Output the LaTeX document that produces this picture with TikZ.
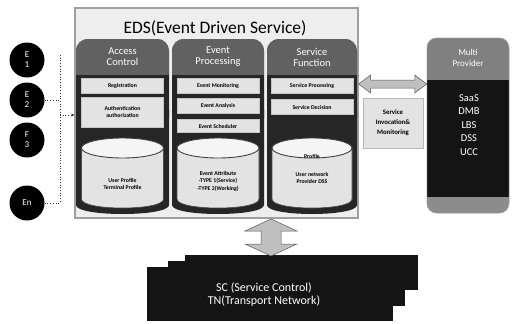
\documentclass[tikz,border=0pt]{standalone}
\usepackage{fontspec}
\setmainfont{Carlito}
\usetikzlibrary{arrows.meta,calc}
\begin{document}
\begin{tikzpicture}[x=1pt,y=-1pt,
  colbody/.style={fill=black!85},
  colhead/.style={fill=black!62},
  panel/.style={fill=gray!22, draw=gray!45, line width=0.4pt, minimum width=82, inner sep=0pt,
    font=\fontsize{5.8}{6.4}\selectfont\bfseries, align=center},
  htext/.style={font=\fontsize{10.5}{11}\selectfont, text=white, align=center, inner sep=0pt},
  ctext/.style={font=\fontsize{5.8}{7.5}\selectfont\bfseries, align=center, inner sep=0pt},
  cylbody/.style={fill=gray!22, draw=black!70, line width=0.6pt},
  cyltop/.style={fill=gray!8, draw=black!75, line width=0.9pt},
  ecirc/.style={circle, fill=black, minimum size=35, inner sep=0pt, text=white,
    font=\fontsize{9}{10}\selectfont, align=center},
  dot/.style={dotted, line width=0.7pt, black!80},
  blockarrow/.style={fill=gray!50, draw=black!65, line width=0.5pt},
  card/.style={fill=black!92},
  cardtext/.style={font=\fontsize{12}{13}\selectfont, text=white, inner sep=0pt}
]
\useasboundingbox (0,0) rectangle (512,324);

% EDS outer box
\node[draw=gray!75, line width=1.3pt, fill=gray!13, minimum width=283, minimum height=210, inner sep=0pt] (eds) at (216.5,113) {};
\node[font=\fontsize{17.5}{18}\selectfont, inner sep=0pt] (title) at (215,28) {EDS(Event Driven Service)};

% columns
\foreach \a/\b in {76/169,172/264,267/357} {
  \fill[colbody, rounded corners=12] (\a,39) rectangle (\b,130);
  \fill[colbody] (\a,110) -- (\b,110) -- (\b,205) .. controls (\b,217) and (\a,217) .. (\a,205) -- cycle;
  \begin{scope}
    \clip[rounded corners=12] (\a,39) rectangle (\b,130);
    \fill[colhead] (\a,39) rectangle (\b,75);
  \end{scope}
}

% headers
\node[htext] (hac) at (122.5,57) {Access\\Control};
\node[htext] (hep) at (218,57) {Event\\Processing};
\node[htext] (hsf) at (312,57) {Service\\Function};

% panels
\node[panel, minimum height=15] (reg) at (122.5,85.5) {Registration};
\node[panel, minimum height=30] (auth) at (122.5,112) {Authentication\\authorization};
\node[panel, minimum height=15] (emon) at (218,85.5) {Event Monitoring};
\node[panel, minimum height=15] (eana) at (218,106) {Event Analysis};
\node[panel, minimum height=13] (esch) at (218,126) {Event Scheduler};
\node[panel, minimum height=15] (spro) at (312,85.5) {Service Processing};
\node[panel, minimum height=15] (sdec) at (312,107) {Service Decision};

% cylinders
\foreach \cx/\rx in {122.5/41,218/41,312/40} {
  \filldraw[cylbody] (\cx-\rx,148) -- (\cx-\rx,199) .. controls (\cx-\rx,211) and (\cx+\rx,211) .. (\cx+\rx,199) -- (\cx+\rx,148) -- cycle;
  \filldraw[cyltop] (\cx,148) ellipse [x radius=\rx, y radius=10];
}
\node[ctext] (cyl1) at (122.5,184) {User Profile\\Terminal Profile};
\node[ctext] (cyl2) at (218,181) {Event Attribute\\-TYPE 1(Service)\\-TYPE 2(Working)};
\node[ctext] (cyl3a) at (312,156) {Profile};
\node[ctext] (cyl3) at (312,178) {User network\\Provider DSS};

% E circles
\node[ecirc] (e1) at (27,60) {E\\1};
\node[ecirc] (e2) at (27,100) {E\\2};
\node[ecirc] (e3) at (27,140) {F\\3};
\node[ecirc] (en) at (27,203) {En};

% dotted bracket
\coordinate (bt) at (60,55);
\coordinate (bb) at (60,203);
\coordinate (bm) at (60,115);
\draw[dot] (bt) -- (bb);
\draw[dot] (e2.east) -- (e2.east -| bt);
\draw[dot] (en.east) -- (en.east -| bt);
\draw[dot, -{Stealth[length=3pt,width=3pt]}] (bm) -- (bm -| eds.west);

% Multi Provider
\node[minimum width=82, minimum height=175, inner sep=0pt] (mp) at (468,125.5) {};
\begin{scope}
  \clip[rounded corners=10] (mp.north west) rectangle (mp.south east);
  \fill[black!92] (mp.north west) rectangle (mp.south east);
  \fill[black!50] (mp.north west) rectangle ($(mp.north east)+(0,42)$);
  \fill[black!45] ($(mp.south west)+(0,-16)$) rectangle (mp.south east);
\end{scope}
\draw[gray!60, line width=0.6pt, rounded corners=10] (mp.north west) rectangle (mp.south east);
\node[font=\fontsize{9}{10.5}\selectfont, text=white, align=center, inner sep=0pt] (mph) at (468,58) {Multi\\Provider};
\node[font=\fontsize{10.5}{13.5}\selectfont, text=white, align=center, inner sep=0pt] (mpl) at (469,125) {SaaS\\DMB\\LBS\\DSS\\UCC};

% Service invocation box
\node[draw=gray!55, fill=gray!22, minimum width=60, minimum height=50, inner sep=0pt, align=center,
  font=\fontsize{6.8}{10}\selectfont\bfseries] (sim) at (393,123) {Service\\Invocation\&\\Monitoring};

% horizontal double block arrow eds <-> mp
\coordinate (ha) at (eds.east |- 0,84);
\coordinate (hb) at (mp.west |- 0,84);
\filldraw[blockarrow] (ha) -- ++(12,-9) -- ++(0,5) -- ($(hb)+(-12,-4)$) -- ++(0,-5) -- (hb)
  -- ++(-12,9) -- ++(0,-5) -- ($(ha)+(12,4)$) -- ++(0,5) -- cycle;

% bottom stack
\fill[card] (185,255) rectangle (418,290);
\fill[card] (168,261) rectangle (405,306);
\node[card, minimum width=246, minimum height=54, inner sep=0pt] (sc) at (270,294) {};
\node[cardtext] (sct) at (264,288) {SC (Service Control)};
\node[cardtext] (tnt) at (264,301) {TN(Transport Network)};

% vertical double block arrow eds <-> stack
\coordinate (va) at (271,219);
\coordinate (vb) at (271,256);
\filldraw[blockarrow] (va) -- ++(26,12) -- ++(-16,0) -- ($(vb)+(10,-12)$) -- ++(16,0) -- (vb)
  -- ++(-26,-12) -- ++(16,0) -- ($(va)+(-10,12)$) -- ++(-16,0) -- cycle;
\end{tikzpicture}
\end{document}
